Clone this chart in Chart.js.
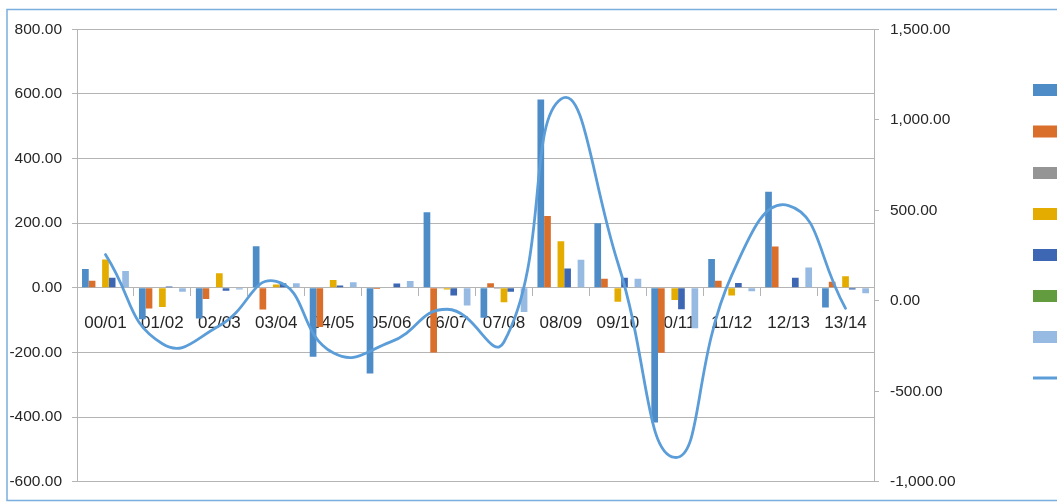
<!DOCTYPE html>
<html>
<head>
<meta charset="utf-8">
<script src="https://cdn.jsdelivr.net/npm/chart.js@4.4.1/dist/chart.umd.min.js"></script>
<style>
  html, body { margin: 0; padding: 0; background: #ffffff; }
  #wrap { width: 1057px; height: 502px; position: relative; }
</style>
</head>
<body>
<div id="wrap"><canvas id="chart" width="1057" height="502"></canvas></div>
<script>
// Financial years on the category axis
const categories = ['00/01', '01/02', '02/03', '03/04', '04/05', '05/06', '06/07',
                    '07/08', '08/09', '09/10', '10/11', '11/12', '12/13', '13/14'];

// Bar series (left axis)
const series1 = [58, -97, -95, 129, -213, -265, 234, -93, 583, 200, -417, 89, 297, -61];
const series2 = [22, -64, -35, -67, -121, -4, -200, 14, 222, 28, -201, 22, 128, 19];
const series3 = [0, 0, 0, 0, 0, 0, -2, -3, 0, 0, 0, 0, 0, 0];
const series4 = [88, -59, 45, 10, 24, 0, -5, -45, 144, -43, -38, -24, 0, 36];
const series5 = [31, 4, -9, 14, 7, 13, -24, -12, 60, 31, -66, 15, 31, -5];
const series6 = [0, 0, 0, 0, 0, 0, 0, 0, 0, 0, 0, 0, 0, 0];
const series7 = [52, -12, -5, 14, 17, 21, -55, -75, 87, 28, -125, -11, 63, -17];

// Smoothed line series (right axis)
const lineSeries = [255, -238, -138, 107, -288, -229, -47, -228, 1114, 210, -866, 140, 526, -42];

// Axis tick values
const leftTicks = [-600, -400, -200, 0, 200, 400, 600, 800];
const rightTicks = [-1000, -500, 0, 500, 1000, 1500];

const colors = ['#4D8CC7', '#DA6E2B', '#959595', '#E5AC00', '#3D67B2', '#629C3F', '#97BAE2'];
const lineColor = '#5B9DD8';
const gridColor = '#B4B4B4';
const textColor = '#262626';

const barSets = [series1, series2, series3, series4, series5, series6, series7].map((d, i) => ({
  type: 'bar',
  label: 'Series ' + (i + 1),
  data: d,
  backgroundColor: colors[i],
  borderWidth: 0,
  yAxisID: 'y',
  order: 1,
  categoryPercentage: 7 / 8.5,
  barPercentage: 1.0
}));

const lineSet = {
  type: 'line',
  label: 'Series 8',
  data: lineSeries,
  borderColor: lineColor,
  borderWidth: 2.8,
  borderCapStyle: 'round',
  pointRadius: 0,
  tension: 0.5,
  fill: false,
  yAxisID: 'y2',
  order: 0
};

// Outer frame of the chart object
const framePlugin = {
  id: 'frame',
  beforeDraw(chart) {
    const ctx = chart.ctx;
    ctx.save();
    ctx.strokeStyle = '#79AEDF';
    ctx.lineWidth = 1.5;
    ctx.beginPath();
    ctx.moveTo(1060, 9.5);
    ctx.lineTo(7, 9.5);
    ctx.lineTo(7, 500.5);
    ctx.lineTo(1060, 500.5);
    ctx.stroke();
    ctx.restore();
  }
};

// Legend keys down the right edge (series names fall outside the frame)
const legendKeys = {
  id: 'legendKeys',
  afterDraw(chart) {
    const ctx = chart.ctx;
    const ys = [90, 131.5, 173, 214, 255, 296, 337];
    ctx.save();
    chart.data.datasets.forEach((ds, i) => {
      if (ds.type === 'bar') {
        ctx.fillStyle = ds.backgroundColor;
        ctx.fillRect(1033, ys[i] - 6, 30, 12);
      } else {
        ctx.strokeStyle = ds.borderColor;
        ctx.lineWidth = 3;
        ctx.beginPath();
        ctx.moveTo(1033, 378);
        ctx.lineTo(1060, 378);
        ctx.stroke();
      }
    });
    ctx.restore();
  }
};

const fmt2 = v => Number(v).toLocaleString('en-US', { minimumFractionDigits: 2, maximumFractionDigits: 2 });

new Chart(document.getElementById('chart'), {
  type: 'bar',
  data: { labels: categories, datasets: [...barSets, lineSet] },
  plugins: [framePlugin, legendKeys],
  options: {
    responsive: false,
    animation: false,
    layout: { padding: { top: 29.3, bottom: 14.7, left: 0, right: 0 } },
    plugins: { legend: { display: false }, tooltip: { enabled: false } },
    scales: {
      x: {
        position: { y: 0 },
        offset: true,
        grid: { drawOnChartArea: false, drawTicks: true, tickLength: 8, color: gridColor, offset: true },
        border: { display: true, color: gridColor, width: 1 },
        ticks: {
          color: textColor,
          padding: 17,
          maxRotation: 0,
          autoSkip: false,
          font: { family: 'Liberation Sans', size: 17 }
        }
      },
      y: {
        position: 'left',
        min: -600,
        max: 800,
        afterBuildTicks(scale) { scale.ticks = leftTicks.map(v => ({ value: v })); },
        afterFit(scale) { scale.width = 77; },
        grid: { color: gridColor, tickLength: 5, drawTicks: true },
        border: { display: true, color: gridColor },
        ticks: {
          color: textColor,
          padding: 10,
          font: { family: 'Liberation Sans', size: 15.5 },
          callback: v => Number(v).toFixed(2)
        }
      },
      y2: {
        position: 'right',
        min: -1000,
        max: 1500,
        afterBuildTicks(scale) { scale.ticks = rightTicks.map(v => ({ value: v })); },
        afterFit(scale) { scale.width = 183; },
        grid: { drawOnChartArea: false, color: gridColor, tickLength: 5, drawTicks: true },
        border: { display: true, color: gridColor },
        ticks: {
          color: textColor,
          padding: 11,
          font: { family: 'Liberation Sans', size: 15.5 },
          callback: v => fmt2(v)
        }
      }
    }
  }
});
</script>
</body>
</html>
